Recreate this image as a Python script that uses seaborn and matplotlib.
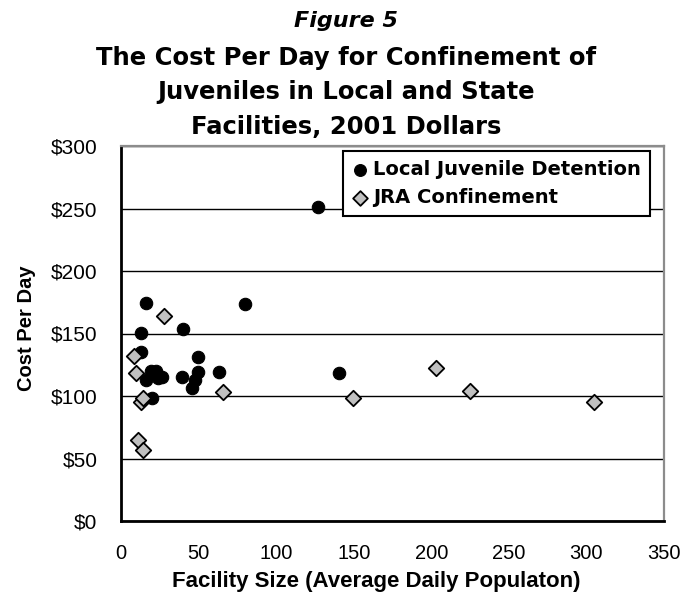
import matplotlib
matplotlib.use("Agg")
import matplotlib.pyplot as plt
import seaborn as sns
import pandas as pd
from matplotlib.ticker import FuncFormatter

# Local juvenile detention facilities: average daily population vs cost per day
local_size = [15.9, 80.0, 40.2, 12.9, 12.9, 49.4, 19.3, 22.6, 15.9, 23.6,
              26.2, 39.1, 49.4, 47.7, 45.5, 63.4, 19.7, 126.8, 140.7]
local_cost = [174.6, 173.3, 153.8, 150.6, 135.0, 131.5, 120.3, 120.3, 112.8, 114.4,
              114.9, 115.5, 118.9, 112.8, 106.4, 118.9, 98.4, 251.4, 118.5]

# JRA (state) confinement facilities
jra_size = [27.9, 8.1, 9.7, 12.9, 13.9, 65.5, 10.7, 13.9, 149.3, 203.1, 225.0, 304.7]
jra_cost = [164.2, 132.3, 118.1, 94.9, 98.4, 102.9, 64.7, 56.7, 98.4, 122.5, 103.7, 95.4]

series_names = ["Local Juvenile Detention", "JRA Confinement"]
title_lines = ["The Cost Per Day for Confinement of",
               "Juveniles in Local and State",
               "Facilities, 2001 Dollars"]

local_df = pd.DataFrame({"size": local_size, "cost": local_cost})
jra_df = pd.DataFrame({"size": jra_size, "cost": jra_cost})

sns.set_style("white")
plt.rcParams["font.family"] = ["Liberation Sans", "DejaVu Sans"]
for key in ("text.color", "axes.labelcolor", "xtick.color", "ytick.color"):
    plt.rcParams[key] = "black"
WIDE = ["DejaVu Sans"]

fig = plt.figure(figsize=(6.93, 5.94), dpi=100)
ax = fig.add_axes([121 / 693, 1 - 521 / 594, 543 / 693, 375 / 594])

sns.scatterplot(data=local_df, x="size", y="cost", ax=ax, marker="o", s=80,
                color="black", edgecolor="black", linewidth=0.8,
                label=series_names[0], zorder=3)
sns.scatterplot(data=jra_df, x="size", y="cost", ax=ax, marker="D", s=62,
                color="#c0c0c0", edgecolor="black", linewidth=1.3,
                label=series_names[1], zorder=4)

ax.set_xlim(0, 350)
ax.set_ylim(0, 300)
ax.set_xticks(range(0, 351, 50))
ax.set_yticks(range(0, 301, 50))
ax.yaxis.set_major_formatter(FuncFormatter(lambda v, _: f"${v:.0f}"))

ax.grid(axis="y", color="black", linewidth=1.0, zorder=0)
ax.set_axisbelow(True)

for side in ("left", "bottom"):
    ax.spines[side].set_color("black")
    ax.spines[side].set_linewidth(2.0)
for side in ("top", "right"):
    ax.spines[side].set_color("#8c8c8c")
    ax.spines[side].set_linewidth(1.6)

ax.tick_params(axis="x", direction="out", length=4.5, width=1.5, color="black",
               labelsize=14.5, pad=12)
ax.tick_params(axis="y", length=0, labelsize=15, pad=17)

ax.set_xlabel("Facility Size (Average Daily Populaton)", fontsize=16,
              fontweight="bold")
ax.xaxis.set_label_coords(0.4696, -0.132)
ax.set_ylabel("Cost Per Day", fontsize=14.5, fontweight="bold")
ax.yaxis.set_label_coords(-0.157, 0.514)

leg = ax.legend(loc="upper right", bbox_to_anchor=(0.9742, 0.987),
                frameon=True, fancybox=False, framealpha=1, edgecolor="black",
                prop={"weight": "bold", "size": 14, "family": WIDE},
                handletextpad=0.3, borderpad=0.45, labelspacing=0.5,
                handlelength=0.8, borderaxespad=0, markerscale=0.95)
leg.get_frame().set_linewidth(1.5)

fig.text(0.5, 1 - 27 / 594, "Figure 5", ha="center", va="baseline",
         fontsize=16, fontweight="bold", fontstyle="italic", family=WIDE)
for i, line in enumerate(title_lines):
    fig.text(0.5, 1 - (65 + 34.3 * i) / 594, line, ha="center", va="baseline",
             fontsize=17.5, fontweight="bold", family=WIDE)

fig.savefig("out.png", dpi=100, facecolor="white")
